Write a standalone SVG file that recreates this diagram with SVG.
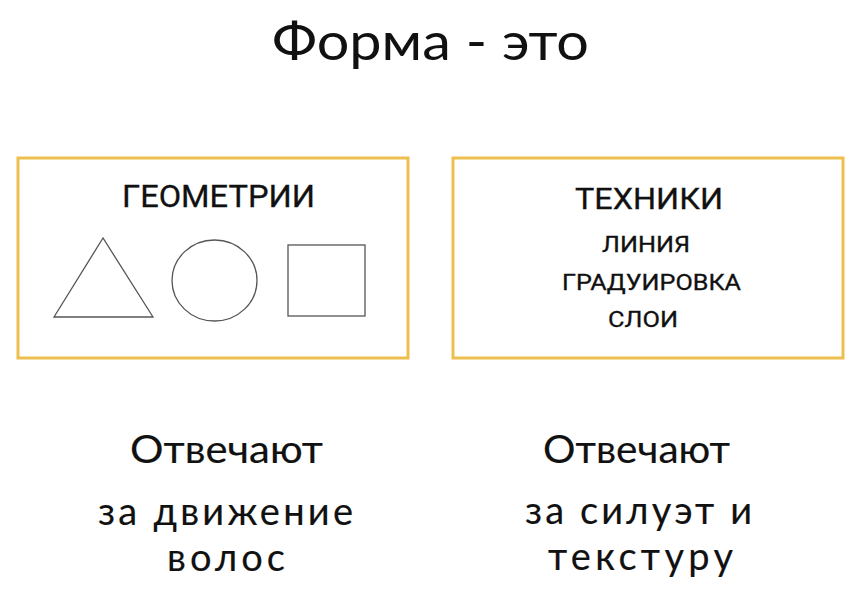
<svg xmlns="http://www.w3.org/2000/svg" width="863" height="598" viewBox="0 0 863 598">
<style>
.box{fill:#fff;stroke:#EDBF4F;stroke-width:3}
.shape{fill:none;stroke:#555;stroke-width:1.3}
.title{font-family:Lato,"Noto Sans",sans-serif;font-size:52px;fill:#111}
.big{font-family:Lato,"Noto Sans",sans-serif;font-size:38px;fill:#111;stroke:#111;stroke-width:0.15}
.lbl{font-family:Roboto,"Liberation Sans",sans-serif;fill:#111;stroke:#111;stroke-width:0.3}
</style>
<rect width="863" height="598" fill="#fff"/>
<text class="title" x="272" y="60" textLength="317" lengthAdjust="spacingAndGlyphs">Форма - это</text>
<g id="geometry">
<rect class="box" x="18" y="158" width="390" height="200"/>
<text class="lbl" x="122" y="207" font-size="32" textLength="193" lengthAdjust="spacingAndGlyphs">ГЕОМЕТРИИ</text>
<polygon class="shape" points="103,238 54,317 153,317"/>
<ellipse class="shape" cx="214.5" cy="280.5" rx="42.5" ry="40.5"/>
<rect class="shape" x="288" y="245" width="77" height="71"/>
</g>
<g id="technique">
<rect class="box" x="453" y="158" width="390" height="200"/>
<text class="lbl" x="575" y="209" font-size="30" textLength="148" lengthAdjust="spacingAndGlyphs">ТЕХНИКИ</text>
<text class="lbl" x="602" y="252" font-size="22" textLength="88" lengthAdjust="spacingAndGlyphs">ЛИНИЯ</text>
<text class="lbl" x="562" y="290" font-size="22" textLength="179" lengthAdjust="spacingAndGlyphs">ГРАДУИРОВКА</text>
<text class="lbl" x="608" y="327" font-size="22" textLength="70" lengthAdjust="spacingAndGlyphs">СЛОИ</text>
</g>
<g id="caption-left">
<text class="big" x="130" y="463" font-size="40" textLength="193" lengthAdjust="spacingAndGlyphs">Отвечают</text>
<text class="big" x="98" y="525" textLength="255" lengthAdjust="spacing">за движение</text>
<text class="big" x="167" y="571" textLength="118" lengthAdjust="spacing">волос</text>
</g>
<g id="caption-right">
<text class="big" x="543" y="463" font-size="40" textLength="187" lengthAdjust="spacingAndGlyphs">Отвечают</text>
<text class="big" x="525" y="524" textLength="227" lengthAdjust="spacing">за силуэт и</text>
<text class="big" x="548" y="570" textLength="185" lengthAdjust="spacing">текстуру</text>
</g>
<g id="connectors"/>
</svg>
